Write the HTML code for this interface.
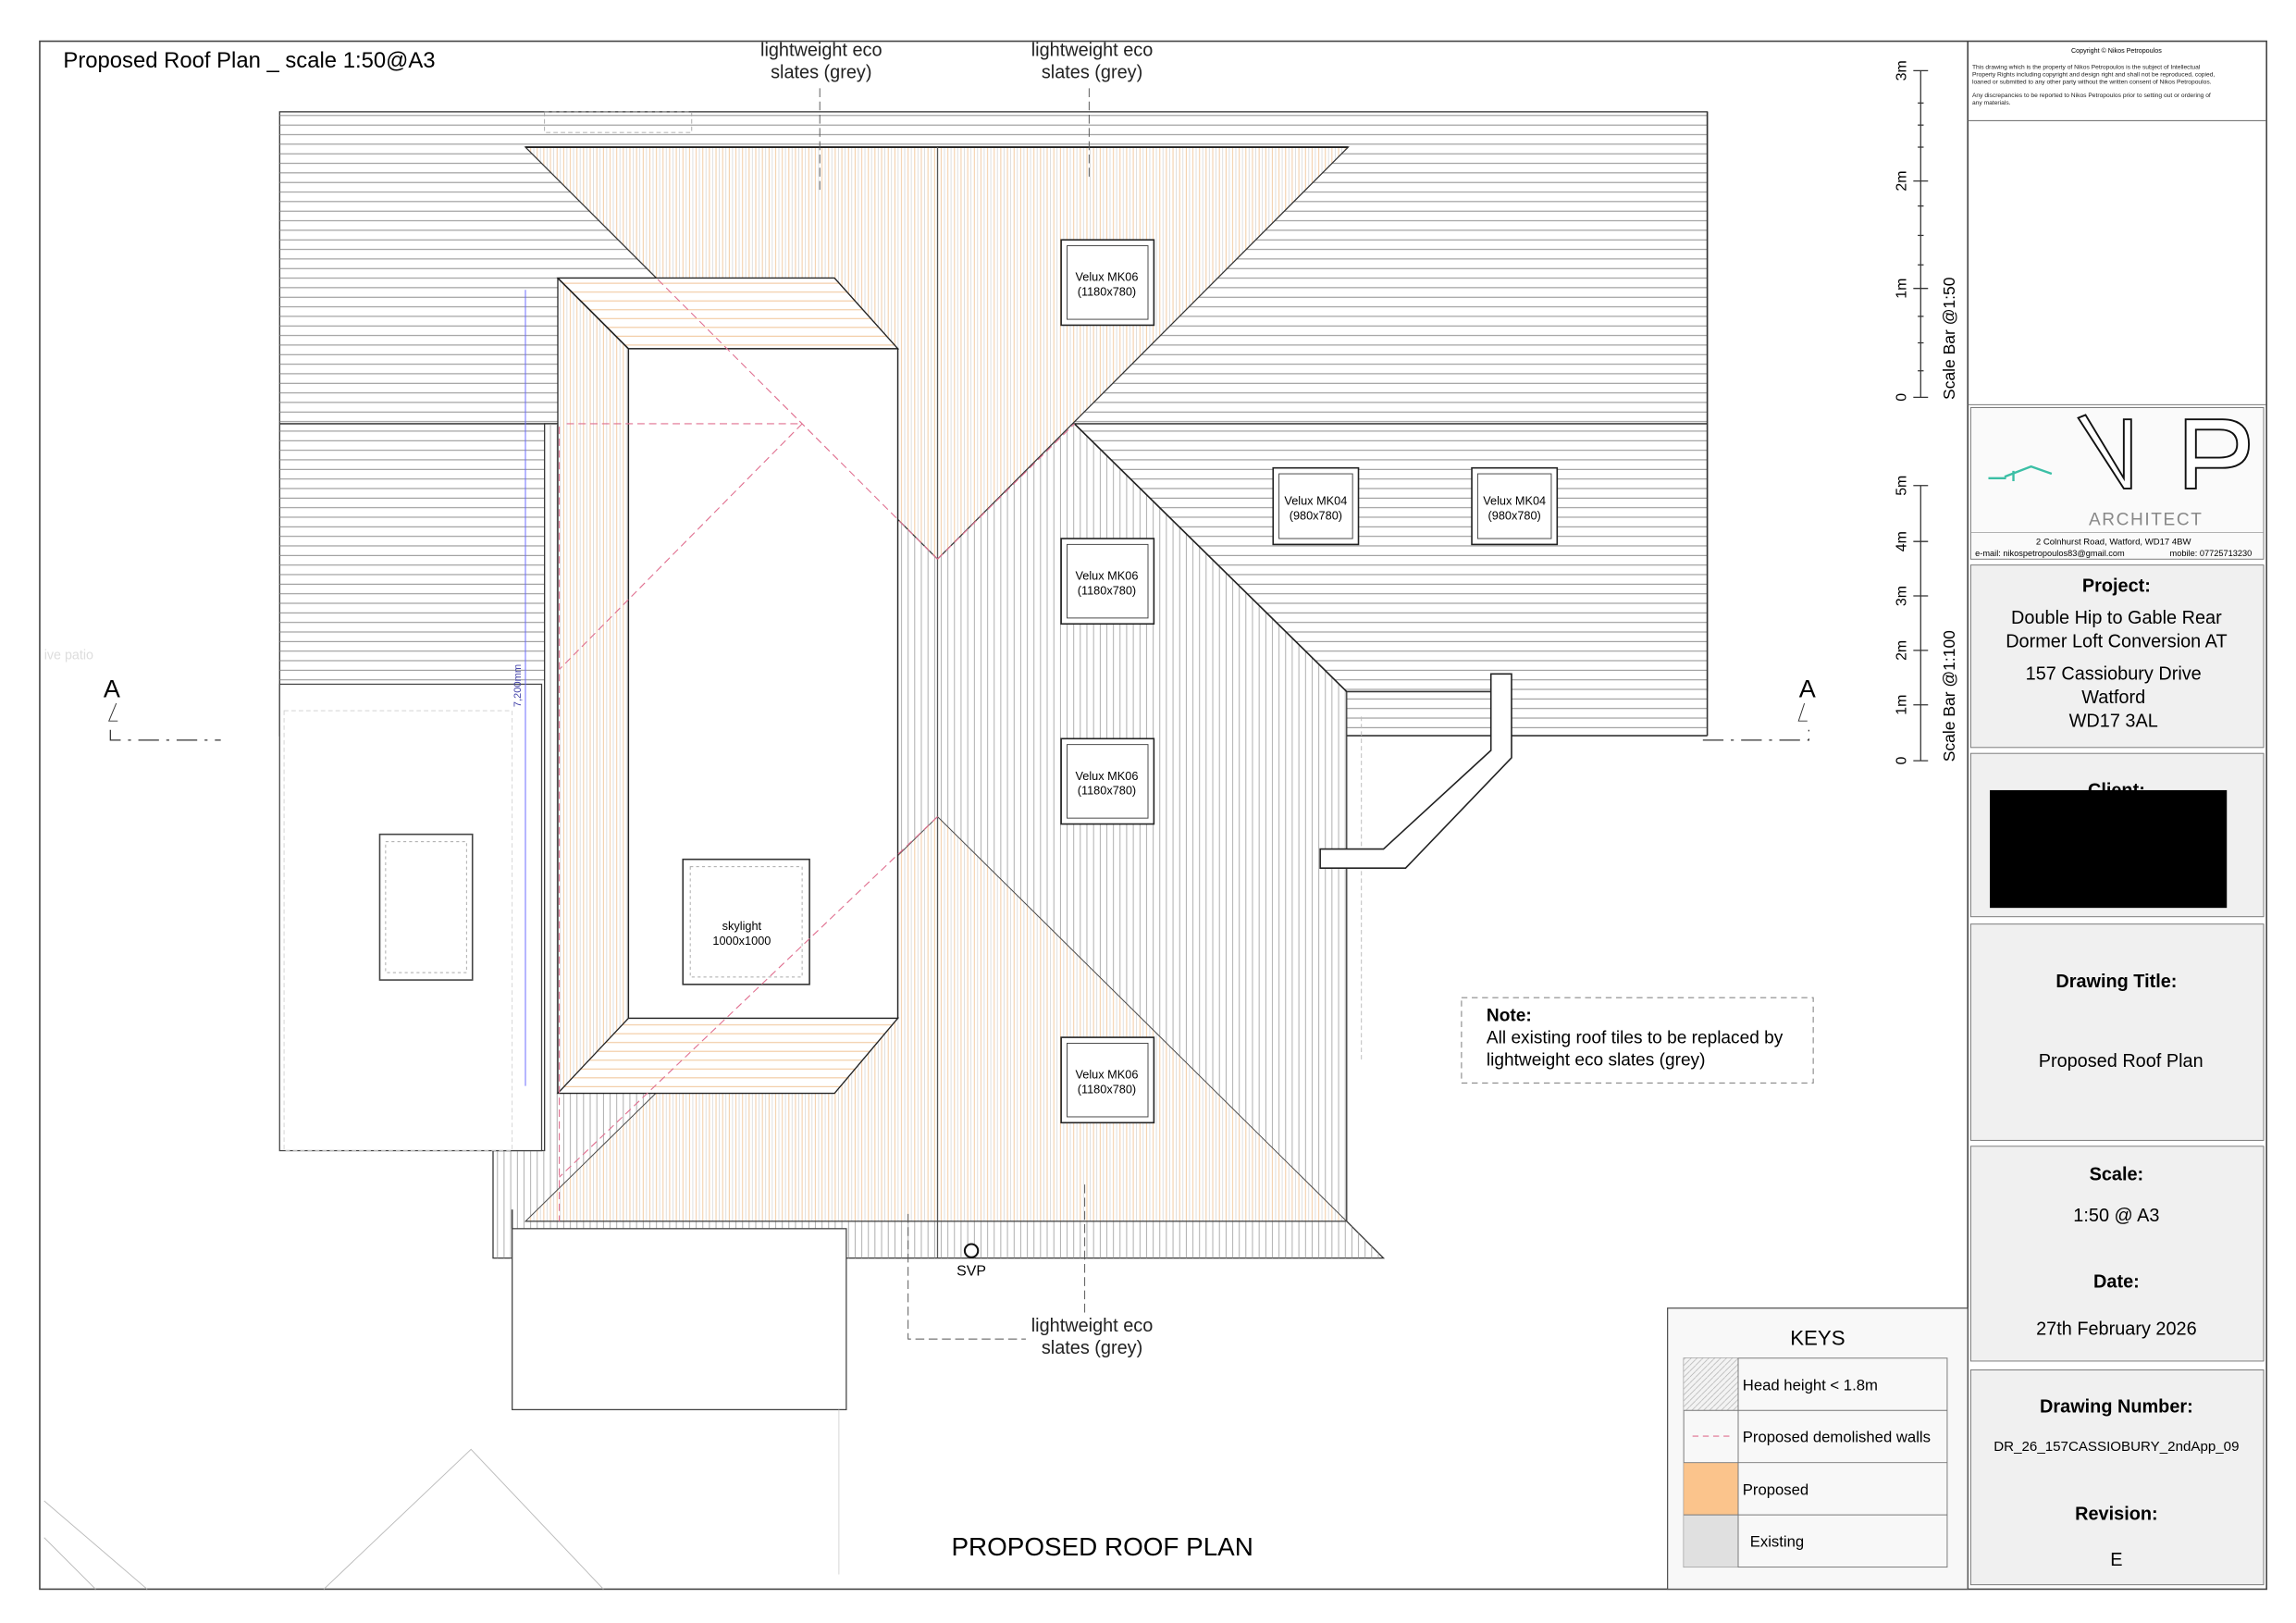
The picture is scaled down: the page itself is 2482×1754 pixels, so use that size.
<!DOCTYPE html>
<html><head><meta charset="utf-8">
<style>
html,body{margin:0;padding:0;background:#fff;}
svg{display:block;}
text{font-family:"Liberation Sans",sans-serif;}
</style></head>
<body>
<svg width="2482" height="1754" viewBox="0 0 1560 1103" preserveAspectRatio="none" xmlns="http://www.w3.org/2000/svg">
<defs>
<pattern id="hg" patternUnits="userSpaceOnUse" width="10" height="6.5"><line x1="0" y1="0.5" x2="10" y2="0.5" stroke="#888" stroke-width="0.6"/></pattern>
<pattern id="vg" patternUnits="userSpaceOnUse" width="4.5" height="10"><line x1="0.5" y1="0" x2="0.5" y2="10" stroke="#999" stroke-width="0.5"/></pattern>
<pattern id="vo" patternUnits="userSpaceOnUse" width="4.5" height="10"><rect width="4.5" height="10" fill="#fff"/><line x1="0.5" y1="0" x2="0.5" y2="10" stroke="#f2c9a0" stroke-width="0.6"/><line x1="2.7" y1="0" x2="2.7" y2="10" stroke="#ccc" stroke-width="0.4"/></pattern>
<pattern id="ho" patternUnits="userSpaceOnUse" width="10" height="6"><rect width="10" height="6" fill="#fff"/><line x1="0" y1="0.5" x2="10" y2="0.5" stroke="#f2c9a0" stroke-width="0.7"/></pattern>
<pattern id="diag" patternUnits="userSpaceOnUse" width="4" height="4"><rect width="4" height="4" fill="#f3f3f3"/><line x1="0" y1="4" x2="4" y2="0" stroke="#aaa" stroke-width="0.4"/></pattern>
</defs>
<rect width="1560" height="1103" fill="#fff"/>
<!-- frame -->
<rect x="27" y="28" width="1513" height="1052" fill="none" stroke="#444" stroke-width="1"/>
<line x1="1337" y1="28" x2="1337" y2="1080" stroke="#444"/>

<!-- main roof -->
<rect x="190" y="76" width="970" height="424" fill="#fff" stroke="#333" stroke-width="0.8"/>
<rect x="190" y="76" width="970" height="424" fill="url(#hg)"/>
<rect x="370" y="76" width="100" height="14" fill="none" stroke="#999" stroke-dasharray="3,2" stroke-width="0.5"/>
<line x1="190" y1="288" x2="385" y2="288" stroke="#444" stroke-width="1"/>
<line x1="730" y1="288" x2="1160" y2="288" stroke="#444" stroke-width="1"/>
<!-- white out below left -->
<rect x="190" y="465" width="180" height="40" fill="#fff"/>
<rect x="915" y="470" width="250" height="40" fill="#fff"/>
<rect x="915" y="470" width="245" height="30" fill="url(#hg)"/>
<line x1="915" y1="500" x2="1160" y2="500" stroke="#333"/>
<line x1="1160" y1="76" x2="1160" y2="500" stroke="#333"/>

<!-- rear section grey vertical -->
<polygon points="370,288 730,288 915,470 915,830 940,855 335,855 335,782 370,782" fill="#fff" stroke="#333" stroke-width="0.8"/>
<polygon points="370,288 730,288 915,470 915,830 940,855 335,855 335,782 370,782" fill="url(#vg)"/>
<line x1="730" y1="288" x2="915" y2="470" stroke="#222"/>
<line x1="915" y1="470" x2="1020" y2="470" stroke="#333"/>
<!-- orange triangles -->
<polygon points="357,100 916,100 637,380" fill="url(#vo)" stroke="#333" stroke-width="0.8"/>
<polygon points="637,555 915,830 357,830" fill="url(#vo)" stroke="#444" stroke-width="0.6"/>
<line x1="357" y1="100" x2="916" y2="100" stroke="#222" stroke-width="1.2"/>
<line x1="637" y1="100" x2="637" y2="855" stroke="#555" stroke-width="0.8"/>
<line x1="357" y1="830" x2="915" y2="830" stroke="#444" stroke-width="0.8"/>

<!-- left flat roof -->
<rect x="190" y="465" width="178" height="317" fill="#fff" stroke="#444" stroke-width="0.8"/>
<rect x="193" y="483" width="155" height="299" fill="none" stroke="#ccc" stroke-dasharray="3,2" stroke-width="0.5"/>
<rect x="258" y="567" width="63" height="99" fill="#fff" stroke="#444"/>
<rect x="262" y="572" width="55" height="89" fill="none" stroke="#aaa" stroke-dasharray="2,2" stroke-width="0.6"/>

<!-- dormer -->
<polygon points="379,189 567,189 610,237 427,237 427,692 610,692 567,743 379,743" fill="url(#vo)" stroke="#222" stroke-width="0.8"/>
<polygon points="379,189 567,189 610,237 427,237" fill="url(#ho)" stroke="#222" stroke-width="0.8"/>
<polygon points="427,692 610,692 567,743 379,743" fill="url(#ho)" stroke="#222" stroke-width="0.8"/>
<rect x="427" y="237" width="183" height="455" fill="#fff" stroke="#222" stroke-width="0.9"/>
<line x1="379" y1="189" x2="427" y2="237" stroke="#222"/>
<!-- dimension -->
<line x1="357" y1="197" x2="357" y2="738" stroke="#66f" stroke-width="0.6"/>
<text x="354" y="466" font-size="7" fill="#44a" transform="rotate(-90 354 466)" text-anchor="middle">7,200mm</text>
<!-- skylight -->
<rect x="464" y="584" width="86" height="85" fill="#fff" stroke="#333"/>
<rect x="469" y="589" width="76" height="75" fill="none" stroke="#aaa" stroke-dasharray="2,2" stroke-width="0.6"/>
<text x="504" y="632" font-size="8" text-anchor="middle">skylight</text>
<text x="504" y="642" font-size="8" text-anchor="middle">1000x1000</text>

<!-- pink dashed demolished walls -->
<g stroke="#e07090" stroke-width="0.7" stroke-dasharray="5,3" fill="none">
<line x1="385" y1="288" x2="545" y2="288"/>
<line x1="447" y1="190" x2="637" y2="380"/>
<line x1="545" y1="288" x2="380" y2="455"/>
<line x1="637" y1="380" x2="730" y2="288"/>
<line x1="637" y1="555" x2="380" y2="800"/>
<line x1="380" y1="290" x2="380" y2="830"/>
</g>

<!-- velux -->
<g font-size="8" text-anchor="middle">
<g><rect x="721" y="163" width="63" height="58" fill="#fff" stroke="#222" stroke-width="1"/><rect x="725" y="167" width="55" height="50" fill="none" stroke="#444" stroke-width="0.6"/><text x="752" y="191">Velux MK06</text><text x="752" y="201">(1180x780)</text></g>
<g><rect x="721" y="366" width="63" height="58" fill="#fff" stroke="#222" stroke-width="1"/><rect x="725" y="370" width="55" height="50" fill="none" stroke="#444" stroke-width="0.6"/><text x="752" y="394">Velux MK06</text><text x="752" y="404">(1180x780)</text></g>
<g><rect x="721" y="502" width="63" height="58" fill="#fff" stroke="#222" stroke-width="1"/><rect x="725" y="506" width="55" height="50" fill="none" stroke="#444" stroke-width="0.6"/><text x="752" y="530">Velux MK06</text><text x="752" y="540">(1180x780)</text></g>
<g><rect x="721" y="705" width="63" height="58" fill="#fff" stroke="#222" stroke-width="1"/><rect x="725" y="709" width="55" height="50" fill="none" stroke="#444" stroke-width="0.6"/><text x="752" y="733">Velux MK06</text><text x="752" y="743">(1180x780)</text></g>
<g><rect x="865" y="318" width="58" height="52" fill="#fff" stroke="#222" stroke-width="1"/><rect x="869" y="322" width="50" height="44" fill="none" stroke="#444" stroke-width="0.6"/><text x="894" y="343">Velux MK04</text><text x="894" y="353">(980x780)</text></g>
<g><rect x="1000" y="318" width="58" height="52" fill="#fff" stroke="#222" stroke-width="1"/><rect x="1004" y="322" width="50" height="44" fill="none" stroke="#444" stroke-width="0.6"/><text x="1029" y="343">Velux MK04</text><text x="1029" y="353">(980x780)</text></g>
</g>

<!-- lower extension -->
<rect x="348" y="835" width="227" height="123" fill="#fff" stroke="#444" stroke-width="0.8"/>
<line x1="348" y1="822" x2="348" y2="835" stroke="#444"/>
<line x1="570" y1="958" x2="570" y2="1070" stroke="#ccc" stroke-width="0.5"/>
<!-- faint garden lines -->
<g stroke="#bbb" stroke-width="0.6" fill="none">
<polyline points="220,1080 320,985 410,1080"/>
<line x1="30" y1="1020" x2="100" y2="1080"/>
<line x1="30" y1="1045" x2="65" y2="1080"/>
</g>

<!-- bay / chimney -->
<rect x="925" y="487" width="235" height="1" fill="none"/>
<polyline points="925,487 925,720" stroke="#bbb" stroke-dasharray="3,2" fill="none" stroke-width="0.6"/>
<polygon points="1013,458 1027,458 1027,515 955,590 897,590 897,577 940,577 1013,510" fill="#fff" stroke="#222" stroke-width="1"/>

<!-- leaders -->
<g stroke="#555" stroke-width="0.6" stroke-dasharray="6,3" fill="none">
<line x1="557" y1="60" x2="557" y2="130"/>
<line x1="740" y1="60" x2="740" y2="120"/>
<line x1="737" y1="805" x2="737" y2="893"/>
<polyline points="617,825 617,910 697,910"/>
</g>
<circle cx="660" cy="850" r="4.5" fill="#fff" stroke="#111" stroke-width="1.3"/>
<text x="660" y="867" font-size="10" text-anchor="middle">SVP</text>

<g font-size="12.5" text-anchor="middle" fill="#222">
<text x="558" y="38">lightweight eco</text><text x="558" y="53">slates (grey)</text>
<text x="742" y="38">lightweight eco</text><text x="742" y="53">slates (grey)</text>
<text x="742" y="905">lightweight eco</text><text x="742" y="920">slates (grey)</text>
</g>
<text x="43" y="46" font-size="15">Proposed Roof Plan _ scale 1:50@A3</text>
<text x="749" y="1057" font-size="17.5" text-anchor="middle">PROPOSED ROOF PLAN</text>
<text x="30" y="448" font-size="9" fill="#ddd">ive patio</text>

<!-- section markers -->
<text x="76" y="474" font-size="17" text-anchor="middle">A</text>
<polyline points="79,478 74,490 80,490" fill="none" stroke="#333" stroke-width="0.6"/>
<polyline points="75,496 75,503 150,503" fill="none" stroke="#333" stroke-width="0.8" stroke-dasharray="14,5,2,5"/>
<text x="1228" y="474" font-size="17" text-anchor="middle">A</text>
<polyline points="1226,478 1222,490 1228,490" fill="none" stroke="#333" stroke-width="0.6"/>
<polyline points="1157,503 1229,503 1229,496" fill="none" stroke="#333" stroke-width="0.8" stroke-dasharray="14,5,2,5"/>

<!-- Note box -->
<rect x="993" y="678" width="239" height="58" fill="none" stroke="#888" stroke-width="0.7" stroke-dasharray="4,3"/>
<text x="1010" y="694" font-size="12" font-weight="bold">Note:</text>
<text x="1010" y="709" font-size="12">All existing roof tiles to be replaced by</text>
<text x="1010" y="724" font-size="12">lightweight eco slates (grey)</text>

<!-- scale bars -->
<g stroke="#333" stroke-width="0.8">
<line x1="1305" y1="48" x2="1305" y2="270"/>
<line x1="1300" y1="48" x2="1310" y2="48"/><line x1="1300" y1="123" x2="1310" y2="123"/><line x1="1300" y1="196" x2="1310" y2="196"/><line x1="1300" y1="270" x2="1310" y2="270"/>
<line x1="1303" y1="70" x2="1307" y2="70"/><line x1="1303" y1="85" x2="1307" y2="85"/><line x1="1303" y1="100" x2="1307" y2="100"/><line x1="1303" y1="140" x2="1307" y2="140"/><line x1="1303" y1="160" x2="1307" y2="160"/><line x1="1303" y1="180" x2="1307" y2="180"/><line x1="1303" y1="215" x2="1307" y2="215"/><line x1="1303" y1="233" x2="1307" y2="233"/><line x1="1303" y1="252" x2="1307" y2="252"/>
<line x1="1305" y1="330" x2="1305" y2="517"/>
<line x1="1300" y1="330" x2="1310" y2="330"/><line x1="1300" y1="368" x2="1310" y2="368"/><line x1="1300" y1="405" x2="1310" y2="405"/><line x1="1300" y1="442" x2="1310" y2="442"/><line x1="1300" y1="479" x2="1310" y2="479"/><line x1="1300" y1="517" x2="1310" y2="517"/>
</g>
<g font-size="10" text-anchor="middle">
<text transform="translate(1295,48) rotate(-90)">3m</text>
<text transform="translate(1295,123) rotate(-90)">2m</text>
<text transform="translate(1295,196) rotate(-90)">1m</text>
<text transform="translate(1295,270) rotate(-90)">0</text>
<text transform="translate(1295,330) rotate(-90)">5m</text>
<text transform="translate(1295,368) rotate(-90)">4m</text>
<text transform="translate(1295,405) rotate(-90)">3m</text>
<text transform="translate(1295,442) rotate(-90)">2m</text>
<text transform="translate(1295,479) rotate(-90)">1m</text>
<text transform="translate(1295,517) rotate(-90)">0</text>
<text font-size="11" transform="translate(1328,230) rotate(-90)">Scale Bar @1:50</text>
<text font-size="11" transform="translate(1328,473) rotate(-90)">Scale Bar @1:100</text>
</g>

<!-- right panel -->
<line x1="1337" y1="82" x2="1540" y2="82" stroke="#666" stroke-width="0.6"/>
<text x="1438" y="36" font-size="4.5" text-anchor="middle">Copyright © Nikos Petropoulos</text>
<g font-size="4.2" fill="#222">
<text x="1340" y="47">This drawing which is the property of Nikos Petropoulos is the subject of Intellectual</text>
<text x="1340" y="52">Property Rights including copyright and design right and shall not be reproduced, copied,</text>
<text x="1340" y="57">loaned or submitted to any other party without the written consent of Nikos Petropoulos.</text>
<text x="1340" y="66">Any discrepancies to be reported to Nikos Petropoulos prior to setting out or ordering of</text>
<text x="1340" y="71">any materials.</text>
</g>
<line x1="1337" y1="275" x2="1540" y2="275" stroke="#666" stroke-width="0.6"/>
<rect x="1339" y="277" width="199" height="103" fill="#fafafa" stroke="#777" stroke-width="0.6"/>
<polyline points="1351,325 1363,325" stroke="#3bbfa5" stroke-width="1.5"/>
<polyline points="1362,324 1380,317 1394,322" stroke="#3bbfa5" stroke-width="1.5" fill="none"/>
<line x1="1368" y1="320" x2="1368" y2="327" stroke="#3bbfa5" stroke-width="1.5"/>
<polygon points="1412,284 1417,282 1443,325 1443,285 1448,285 1448,332 1443,332" fill="#fff" stroke="#111" stroke-width="1.2"/>
<path d="M1485,285 L1510,285 Q1528,285 1528,302 Q1528,318 1510,318 L1492,318 L1492,332 L1485,332 Z M1492,292 L1508,292 Q1520,292 1520,302 Q1520,311 1508,311 L1492,311 Z" fill="#fff" stroke="#111" stroke-width="1.2" fill-rule="evenodd"/>
<text x="1458" y="357" font-size="12" text-anchor="middle" fill="#888" letter-spacing="1">ARCHITECT</text>
<line x1="1339" y1="362" x2="1538" y2="362" stroke="#999" stroke-width="0.5"/>
<text x="1436" y="370" font-size="6" text-anchor="middle">2 Colnhurst Road, Watford, WD17 4BW</text>
<text x="1342" y="378" font-size="5.8">e-mail: nikospetropoulos83@gmail.com</text>
<text x="1530" y="378" font-size="5.8" text-anchor="end">mobile: 07725713230</text>

<g fill="#f0f0f0" stroke="#777" stroke-width="0.6">
<rect x="1339" y="384" width="199" height="124"/>
<rect x="1339" y="512" width="199" height="111"/>
<rect x="1339" y="628" width="199" height="147"/>
<rect x="1339" y="779" width="199" height="146"/>
<rect x="1339" y="931" width="199" height="146"/>
</g>
<g text-anchor="middle" font-size="12.5">
<text x="1438" y="402" font-weight="bold">Project:</text>
<text x="1438" y="424">Double Hip to Gable Rear</text>
<text x="1438" y="440">Dormer Loft Conversion AT</text>
<text x="1436" y="462">157 Cassiobury Drive</text>
<text x="1436" y="478">Watford</text>
<text x="1436" y="494">WD17 3AL</text>
<text x="1438" y="541" font-weight="bold">Client:</text>
<text x="1438" y="671" font-weight="bold">Drawing Title:</text>
<text x="1441" y="725">Proposed Roof Plan</text>
<text x="1438" y="802" font-weight="bold">Scale:</text>
<text x="1438" y="830">1:50 @ A3</text>
<text x="1438" y="875" font-weight="bold">Date:</text>
<text x="1438" y="907">27th February 2026</text>
<text x="1438" y="960" font-weight="bold">Drawing Number:</text>
<text x="1438" y="986" font-size="9.5">DR_26_157CASSIOBURY_2ndApp_09</text>
<text x="1438" y="1033" font-weight="bold">Revision:</text>
<text x="1438" y="1064">E</text>
</g>
<rect x="1352" y="537" width="161" height="80" fill="#000"/>

<!-- keys -->
<rect x="1133" y="889" width="204" height="191" fill="#f8f8f8" stroke="#555" stroke-width="0.8"/>
<text x="1235" y="914" font-size="14" text-anchor="middle">KEYS</text>
<rect x="1144" y="923" width="179" height="142" fill="#f8f8f8" stroke="#777" stroke-width="0.6"/>
<rect x="1144" y="923" width="37" height="35.5" fill="url(#diag)"/>
<rect x="1144" y="994" width="37" height="35.5" fill="#fbc48c"/>
<rect x="1144" y="1029.5" width="37" height="35.5" fill="#e0e0e0"/>
<g stroke="#777" stroke-width="0.6">
<line x1="1181" y1="923" x2="1181" y2="1065"/>
<line x1="1144" y1="958.5" x2="1323" y2="958.5"/>
<line x1="1144" y1="994" x2="1323" y2="994"/>
<line x1="1144" y1="1029.5" x2="1323" y2="1029.5"/>
</g>
<line x1="1150" y1="976" x2="1178" y2="976" stroke="#e07090" stroke-width="0.7" stroke-dasharray="4,3"/>
<g font-size="10.5">
<text x="1184" y="945">Head height &lt; 1.8m</text>
<text x="1184" y="980">Proposed demolished walls</text>
<text x="1184" y="1016">Proposed</text>
<text x="1189" y="1051">Existing</text>
</g>
</svg>
</body></html>
